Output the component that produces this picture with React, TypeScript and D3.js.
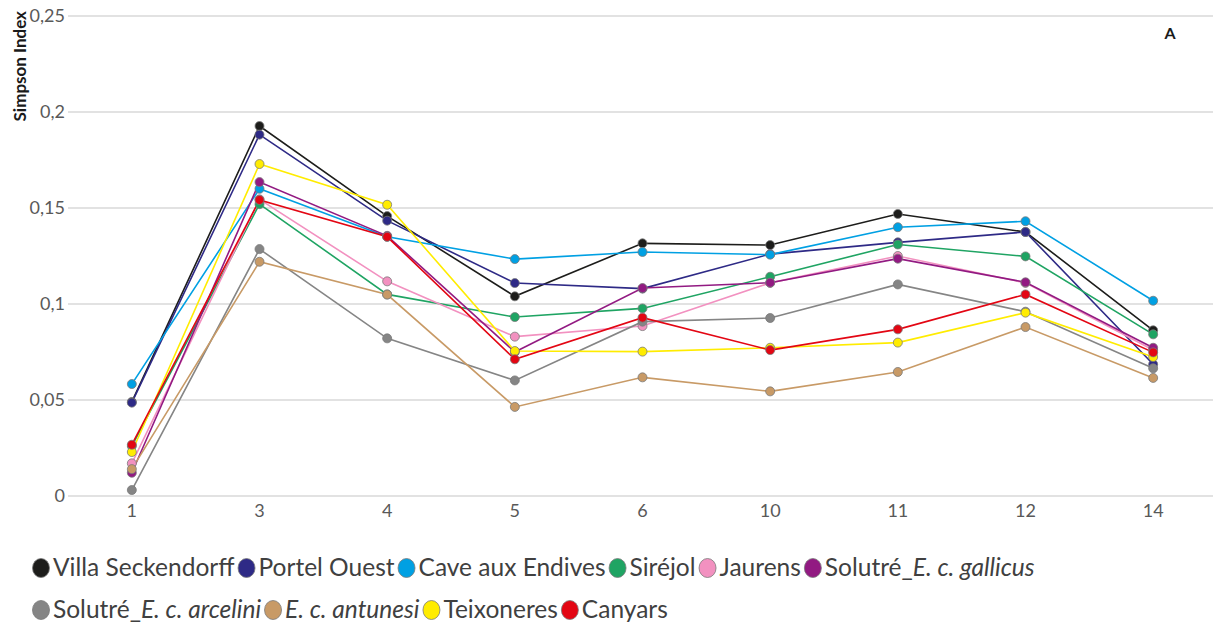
import { useEffect, useRef } from 'react';
import * as d3 from 'd3';

const categories = ['1', '3', '4', '5', '6', '10', '11', '12', '14'];
const yTicks = [0, 0.05, 0.1, 0.15, 0.2, 0.25];

const villaSeckendorff = [0.049, 0.1927, 0.1458, 0.104, 0.1316, 0.1307, 0.1469, 0.1375, 0.0863];
const portelOuest = [0.0486, 0.1882, 0.1434, 0.1109, 0.108, 0.126, 0.1321, 0.1375, 0.0686];
const caveAuxEndives = [0.0583, 0.16, 0.135, 0.1234, 0.1271, 0.1257, 0.14, 0.1431, 0.1017];
const sirejol = [0.026, 0.152, 0.105, 0.0932, 0.0977, 0.1142, 0.131, 0.1248, 0.0842];
const jaurens = [0.017, 0.1545, 0.1118, 0.083, 0.0885, 0.111, 0.125, 0.111, 0.076];
const solutreGallicus = [0.0121, 0.1635, 0.1355, 0.075, 0.1083, 0.1111, 0.1236, 0.1113, 0.0772];
const solutreArcelini = [0.0031, 0.1286, 0.0821, 0.0602, 0.0908, 0.0927, 0.1102, 0.096, 0.0665];
const antunesi = [0.014, 0.122, 0.1049, 0.0464, 0.0618, 0.0545, 0.0646, 0.088, 0.0615];
const teixoneres = [0.0229, 0.1729, 0.1517, 0.0755, 0.0752, 0.0772, 0.0799, 0.0955, 0.0724];
const canyars = [0.0267, 0.1542, 0.135, 0.0712, 0.0929, 0.076, 0.0868, 0.105, 0.0748];

// label parts: [text, italic]
type Part = [string, boolean];
type Series = { parts: Part[]; color: string; values: number[] };

const series: Series[] = [
  { parts: [['Villa Seckendorff', false]], color: '#1d1d1b', values: villaSeckendorff },
  { parts: [['Portel Ouest', false]], color: '#2e2a86', values: portelOuest },
  { parts: [['Cave aux Endives', false]], color: '#00a0e3', values: caveAuxEndives },
  { parts: [['Siréjol', false]], color: '#1fa463', values: sirejol },
  { parts: [['Jaurens', false]], color: '#f291c0', values: jaurens },
  { parts: [['Solutré_', false], ['E. c. gallicus', true]], color: '#921a82', values: solutreGallicus },
  { parts: [['Solutré_', false], ['E. c. arcelini', true]], color: '#858585', values: solutreArcelini },
  { parts: [['E. c. antunesi', true]], color: '#c89a66', values: antunesi },
  { parts: [['Teixoneres', false]], color: '#ffec00', values: teixoneres },
  { parts: [['Canyars', false]], color: '#e30613', values: canyars },
];

// which series go on which legend row
const legendRows = [
  [0, 1, 2, 3, 4, 5],
  [6, 7, 8, 9],
];

const W = 1213;
const H = 626;
const FONT = 'Lato, "Open Sans", sans-serif';

const App = () => {
  const svgRef = useRef<SVGSVGElement>(null);

  useEffect(() => {
    if (!svgRef.current) return;
    const svg = d3.select(svgRef.current);
    svg.selectAll('*').remove();

    const x = d3.scalePoint<string>().domain(categories).range([68, 1217]).padding(0.5);
    const y = d3.scaleLinear().domain([0, 0.25]).range([496, 16]);
    const fmt = (v: number) => String(+v.toFixed(2)).replace('.', ',');

    svg.append('rect').attr('width', W).attr('height', H).attr('fill', '#ffffff');

    // gridlines
    svg
      .append('g')
      .selectAll('line')
      .data(yTicks)
      .join('line')
      .attr('x1', 68)
      .attr('x2', W)
      .attr('y1', (d) => y(d))
      .attr('y2', (d) => y(d))
      .attr('stroke', '#d9d9d9')
      .attr('stroke-width', 1.5);

    // y tick labels
    svg
      .append('g')
      .selectAll('text')
      .data(yTicks)
      .join('text')
      .attr('x', 65)
      .attr('y', (d) => y(d) + 6)
      .attr('text-anchor', 'end')
      .attr('font-family', FONT)
      .attr('font-size', '18px')
      .attr('fill', '#595959')
      .text((d) => fmt(d));

    // x tick labels
    svg
      .append('g')
      .selectAll('text')
      .data(categories)
      .join('text')
      .attr('x', (d) => x(d)!)
      .attr('y', 517)
      .attr('text-anchor', 'middle')
      .attr('font-family', FONT)
      .attr('font-size', '18px')
      .attr('fill', '#595959')
      .text((d) => d);

    // axis title
    svg
      .append('text')
      .attr('transform', 'translate(26,11) rotate(-90)')
      .attr('text-anchor', 'end')
      .attr('font-family', FONT)
      .attr('font-size', '17px')
      .attr('font-weight', 'bold')
      .attr('fill', '#1a1a1a')
      .text('Simpson Index');

    svg
      .append('text')
      .attr('x', 1170)
      .attr('y', 39)
      .attr('text-anchor', 'middle')
      .attr('font-family', FONT)
      .attr('font-size', '16px')
      .attr('font-weight', 'bold')
      .attr('fill', '#1a1a1a')
      .text('A');

    const line = d3
      .line<number>()
      .x((_, i) => x(categories[i])!)
      .y((d) => y(d));

    const plot = svg.append('g');
    series.forEach((s) => {
      plot
        .append('path')
        .attr('d', line(s.values))
        .attr('fill', 'none')
        .attr('stroke', s.color)
        .attr('stroke-width', 1.6);
    });
    series.forEach((s) => {
      plot
        .append('g')
        .selectAll('circle')
        .data(s.values)
        .join('circle')
        .attr('cx', (_, i) => x(categories[i])!)
        .attr('cy', (d) => y(d))
        .attr('r', 4.5)
        .attr('fill', s.color)
        .attr('stroke', '#7a7a7a')
        .attr('stroke-width', 0.8);
    });

    // legend, laid out left to right
    const rowY = [568, 610];
    legendRows.forEach((row, r) => {
      let cx = 41;
      row.forEach((idx) => {
        const s = series[idx];
        const g = svg.append('g');
        g.append('ellipse')
          .attr('cx', cx)
          .attr('cy', rowY[r])
          .attr('rx', 8.5)
          .attr('ry', 9.5)
          .attr('fill', s.color)
          .attr('stroke', '#7a7a7a')
          .attr('stroke-width', 0.8);
        const t = g
          .append('text')
          .attr('x', cx + 12)
          .attr('y', rowY[r] + 8)
          .attr('font-family', FONT)
          .attr('font-size', '24.5px')
          .attr('fill', '#404040');
        s.parts.forEach(([txt, it]) => {
          t.append('tspan').attr('font-style', it ? 'italic' : 'normal').text(txt);
        });
        const w = (t.node() as SVGTextElement).getComputedTextLength();
        cx = cx + 12 + w + 12;
      });
    });
  }, []);

  return (
    <svg
      ref={svgRef}
      width={W}
      height={H}
      style={{ position: 'absolute', left: 0, top: 0, display: 'block' }}
    />
  );
};

export default App;
